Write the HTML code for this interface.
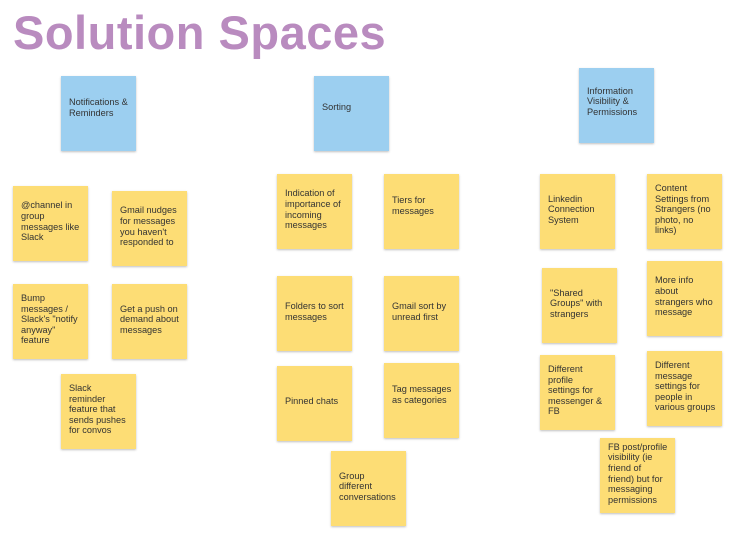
<!DOCTYPE html>
<html><head><meta charset="utf-8"><style>
body{margin:0;width:750px;height:538px;background:#fff;position:relative;overflow:hidden;font-family:"Liberation Sans",sans-serif}
h1{position:absolute;left:13px;top:5px;margin:0;font-size:47px;font-weight:bold;color:#b98bbf;letter-spacing:0.5px}
.n{position:absolute;width:75px;height:75px;background:#fddd75;box-shadow:0 1px 2px rgba(0,0,0,.25);display:flex;align-items:center;box-sizing:border-box;padding:0 0 4px 8px;font-size:9.2px;line-height:10.6px;color:#333;white-space:nowrap}
.b{background:#9ccff0}
</style></head><body>
<h1>Solution Spaces</h1>
<div class="n b" style="left:61px;top:76px;padding-bottom:12px">Notifications &amp;<br>Reminders</div>
<div class="n b" style="left:314px;top:76px;padding-bottom:12px">Sorting</div>
<div class="n b" style="left:579px;top:68px;padding-bottom:8px">Information<br>Visibility &amp;<br>Permissions</div>

<div class="n" style="left:13px;top:186px">@channel in<br>group<br>messages like<br>Slack</div>
<div class="n" style="left:112px;top:191px">Gmail nudges<br>for messages<br>you haven't<br>responded to</div>
<div class="n" style="left:13px;top:284px">Bump<br>messages /<br>Slack's "notify<br>anyway"<br>feature</div>
<div class="n" style="left:112px;top:284px">Get a push on<br>demand about<br>messages</div>
<div class="n" style="left:61px;top:374px">Slack<br>reminder<br>feature that<br>sends pushes<br>for convos</div>

<div class="n" style="left:277px;top:174px">Indication of<br>importance of<br>incoming<br>messages</div>
<div class="n" style="left:384px;top:174px;padding-bottom:12px">Tiers for<br>messages</div>
<div class="n" style="left:277px;top:276px">Folders to sort<br>messages</div>
<div class="n" style="left:384px;top:276px">Gmail sort by<br>unread first</div>
<div class="n" style="left:277px;top:366px">Pinned chats</div>
<div class="n" style="left:384px;top:363px;padding-bottom:12px">Tag messages<br>as categories</div>
<div class="n" style="left:331px;top:451px">Group<br>different<br>conversations</div>

<div class="n" style="left:540px;top:174px">Linkedin<br>Connection<br>System</div>
<div class="n" style="left:647px;top:174px">Content<br>Settings from<br>Strangers (no<br>photo, no<br>links)</div>
<div class="n" style="left:542px;top:268px">"Shared<br>Groups" with<br>strangers</div>
<div class="n" style="left:647px;top:261px">More info<br>about<br>strangers who<br>message</div>
<div class="n" style="left:540px;top:355px">Different<br>profile<br>settings for<br>messenger &amp;<br>FB</div>
<div class="n" style="left:647px;top:351px">Different<br>message<br>settings for<br>people in<br>various groups</div>
<div class="n" style="left:600px;top:438px">FB post/profile<br>visibility (ie<br>friend of<br>friend) but for<br>messaging<br>permissions</div>
</body></html>
